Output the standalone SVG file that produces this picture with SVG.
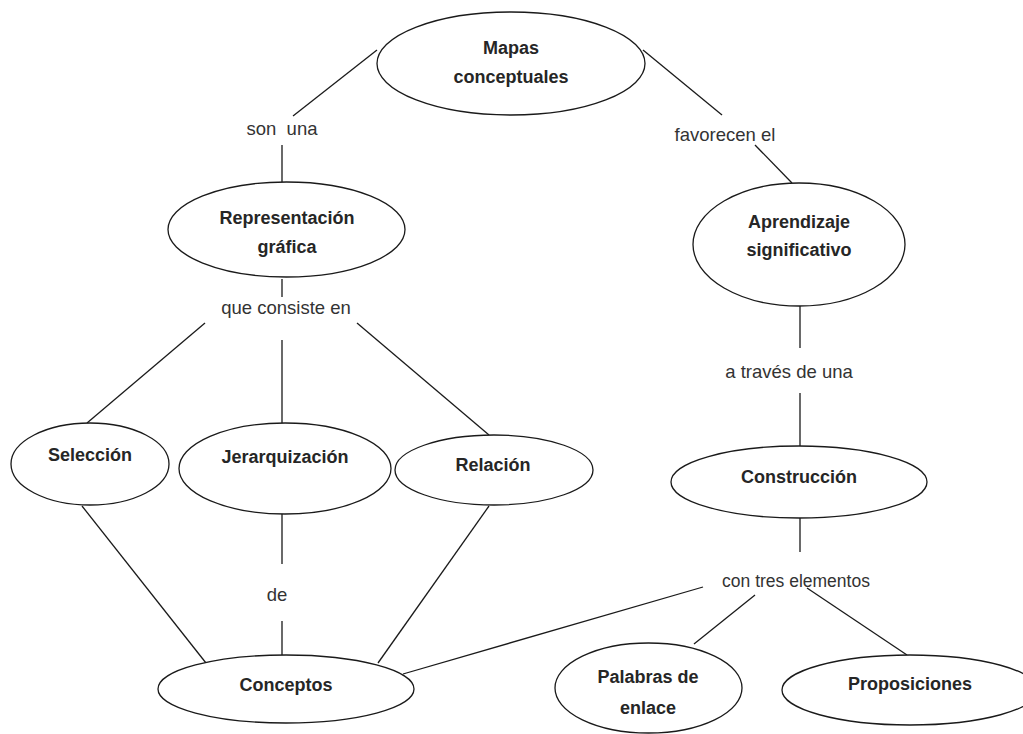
<svg xmlns="http://www.w3.org/2000/svg" width="1023" height="734" viewBox="0 0 1023 734">
  <style>
    .node ellipse { fill: #ffffff; stroke: #1a1a1a; stroke-width: 1.3; }
    .node text { font-family: "Liberation Sans", Arial, sans-serif; font-weight: bold; font-size: 18px; fill: #262626; text-anchor: middle; }
    .link line { stroke: #1a1a1a; stroke-width: 1.3; }
    .label { font-family: "Liberation Sans", Arial, sans-serif; font-size: 18.5px; fill: #333333; text-anchor: middle; }
  </style>
  <rect width="1023" height="734" fill="#ffffff"/>

  <!-- connectors -->
  <g id="connectors" class="link">
    <line x1="377" y1="50" x2="293" y2="116"/>
    <line x1="282" y1="145" x2="282" y2="182"/>
    <line x1="643" y1="50" x2="722" y2="115"/>
    <line x1="755" y1="145" x2="792" y2="183"/>
    <line x1="282" y1="279" x2="282" y2="297"/>
    <line x1="205" y1="323" x2="87" y2="423"/>
    <line x1="282" y1="340" x2="282" y2="423"/>
    <line x1="357" y1="323" x2="489" y2="435"/>
    <line x1="800" y1="306" x2="800" y2="348"/>
    <line x1="800" y1="393" x2="800" y2="446"/>
    <line x1="82" y1="506" x2="206" y2="663"/>
    <line x1="282" y1="514" x2="282" y2="564"/>
    <line x1="282" y1="621" x2="282" y2="655"/>
    <line x1="489" y1="506" x2="378" y2="663"/>
    <line x1="403" y1="674" x2="703" y2="587"/>
    <line x1="800" y1="518" x2="800" y2="552"/>
    <line x1="755" y1="595" x2="694" y2="644"/>
    <line x1="807" y1="588" x2="907" y2="655"/>
    <!-- link phrases -->
    <text class="label" x="282" y="135">son&#160; una</text>
    <text class="label" x="725" y="141">favorecen el</text>
    <text class="label" x="286" y="314">que consiste en</text>
    <text class="label" x="789" y="378">a través de una</text>
    <text class="label" x="277" y="601">de</text>
    <text class="label" x="796" y="587" style="font-size:17.5px">con tres elementos</text>
  </g>

  <!-- concept nodes -->
  <g id="mapas" class="node">
    <ellipse cx="511" cy="63.5" rx="134" ry="51.5"/>
    <text x="511" y="54">Mapas</text>
    <text x="511" y="83">conceptuales</text>
  </g>
  <g id="representacion" class="node">
    <ellipse cx="286.5" cy="229.5" rx="118.5" ry="47.5"/>
    <text x="287" y="224">Representación</text>
    <text x="287" y="253">gráfica</text>
  </g>
  <g id="aprendizaje" class="node">
    <ellipse cx="799" cy="244.5" rx="106" ry="61.5"/>
    <text x="799" y="228">Aprendizaje</text>
    <text x="799" y="256">significativo</text>
  </g>
  <g id="seleccion" class="node">
    <ellipse cx="90" cy="464" rx="79" ry="41"/>
    <text x="90" y="461">Selección</text>
  </g>
  <g id="jerarquizacion" class="node">
    <ellipse cx="285" cy="468.5" rx="106" ry="45.5"/>
    <text x="285" y="463">Jerarquización</text>
  </g>
  <g id="relacion" class="node">
    <ellipse cx="494" cy="470" rx="99" ry="35"/>
    <text x="493" y="471">Relación</text>
  </g>
  <g id="construccion" class="node">
    <ellipse cx="799" cy="482" rx="128" ry="36"/>
    <text x="799" y="483">Construcción</text>
  </g>
  <g id="conceptos" class="node">
    <ellipse cx="286" cy="689" rx="128" ry="34"/>
    <text x="286" y="691">Conceptos</text>
  </g>
  <g id="palabras" class="node">
    <ellipse cx="648.5" cy="688" rx="93.5" ry="45"/>
    <text x="648" y="683">Palabras de</text>
    <text x="648" y="714">enlace</text>
  </g>
  <g id="proposiciones" class="node">
    <ellipse cx="910" cy="690" rx="128" ry="35"/>
    <text x="910" y="690">Proposiciones</text>
  </g>
</svg>
